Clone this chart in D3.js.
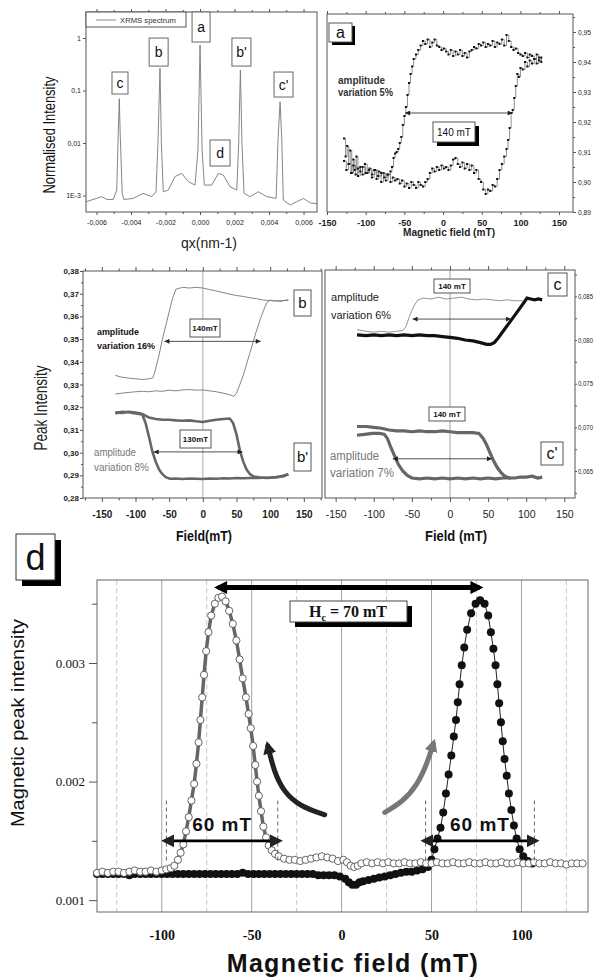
<!DOCTYPE html>
<html>
<head>
<meta charset="utf-8">
<script src="https://cdn.jsdelivr.net/npm/d3@7"></script>
<style>
body{margin:0;background:#fff;}
svg{display:block;font-family:"Liberation Sans",Arial,sans-serif;}
</style>
</head>
<body>
<svg id="fig" width="595" height="979"></svg>
<script>
// ---------- data ----------
// XRMS spectrum [qx (nm-1), normalised intensity]
const xrms = [[-0.00661,0.00076],[-0.0060,0.00088],[-0.0057,0.00095],[-0.0054,0.00084],[-0.00503,0.00084],
  [-0.00483,0.00127],[-0.00474,0.0155],[-0.00468,0.07],[-0.00463,0.0155],[-0.00451,0.0011],[-0.00442,0.00084],
  [-0.00387,0.00088],[-0.0033,0.0011],[-0.0028,0.00095],[-0.00255,0.00118],[-0.00244,0.0099],[-0.00232,0.265],
  [-0.00224,0.0099],[-0.00213,0.00118],[-0.00184,0.00127],[-0.00145,0.0023],[-0.00106,0.00264],[-0.00068,0.00183],
  [-0.00029,0.00158],[-0.00012,0.0074],[0,0.735],[0.00012,0.0074],[0.00025,0.00158],[0.00068,0.00158],
  [0.00106,0.00264],[0.00135,0.00245],[0.00174,0.00147],[0.00213,0.00127],[0.00224,0.0099],[0.00234,0.246],
  [0.00243,0.0099],[0.00255,0.0011],[0.0029,0.00095],[0.00338,0.00118],[0.00387,0.00095],[0.00441,0.00088],
  [0.00452,0.0114],[0.00464,0.061],[0.00474,0.0114],[0.00483,0.00082],[0.00522,0.00066],[0.0056,0.00076],
  [0.0060,0.00088],[0.0064,0.00072],[0.00678,0.0007]];
const qxTicks = [-0.006,-0.004,-0.002,0,0.002,0.004,0.006];
const qxLabels = ['-0,006','-0,004','-0,002','0,000','0,002','0,004','0,006'];
const logTicks = [1,0.1,0.01,0.001];
const logLabels = ['1','0,1','0,01','1E-3'];

// panel a : hysteresis of peak a [field mT, intensity]
const aRise = [[-128,0.9145],[-126,0.9085],[-124,0.9120],[-122,0.9060],[-120,0.9105],[-118,0.9030],[-116,0.9075],
  [-114,0.9040],[-112,0.9085],[-110,0.9020],[-107,0.9050],[-104,0.9025],[-101,0.9060],[-98,0.9030],[-95,0.9045],
  [-92,0.9015],[-89,0.9040],[-86,0.9010],[-83,0.9035],[-80,0.9000],[-77,0.9030],[-74,0.9005],[-71,0.9025],
  [-68,0.9000],[-65,0.9015],[-62,0.9005],[-59,0.9010],[-56,0.8995],[-53,0.9005],[-50,0.8985],[-47,0.8995],
  [-44,0.8980],[-41,0.9000],[-38,0.8990],[-35,0.8980],[-32,0.9000],[-29,0.8990],[-26,0.8985],[-23,0.9000],
  [-20,0.9010],[-17,0.9030],[-14,0.9045],[-11,0.9035],[-8,0.9050],[-5,0.9040],[-2,0.9055],[1,0.9045],[4,0.9050],
  [7,0.9040],[10,0.9055],[13,0.9075],[16,0.9080],[19,0.9060],[22,0.9050],[25,0.9065],[28,0.9045],[31,0.9060],
  [34,0.9040],[37,0.9055],[40,0.9030],[43,0.9040],[46,0.9010],[49,0.9000],[52,0.8975],[55,0.8960],[58,0.8975],
  [61,0.8970],[64,0.8990],[67,0.8985],[70,0.9010],[73,0.9040],[76,0.9060],[79,0.9085],[82,0.9110],[84,0.9140],
  [86,0.9180],[88,0.9230],[90,0.9240],[92,0.9280],[94,0.9320],[96,0.9360],[98,0.9350],[100,0.9380],[103,0.9375],
  [106,0.9400],[109,0.9385],[112,0.9405],[115,0.9395],[118,0.9410],[121,0.9395],[124,0.9415],[127,0.9400]];
const aFall = [[-128,0.9070],[-125,0.9040],[-122,0.9060],[-119,0.9030],[-116,0.9055],[-113,0.9025],[-110,0.9045],
  [-107,0.9035],[-104,0.9050],[-100,0.9030],[-96,0.9040],[-92,0.9025],[-88,0.9040],[-84,0.9020],[-80,0.9030],
  [-76,0.9015],[-72,0.9025],[-68,0.9035],[-66,0.9050],[-64,0.9080],[-62,0.9095],[-60,0.9100],[-58,0.9110],
  [-56,0.9130],[-54,0.9150],[-52,0.9190],[-50,0.9220],[-48,0.9250],[-46,0.9290],[-44,0.9330],[-42,0.9360],
  [-40,0.9385],[-38,0.9410],[-35,0.9425],[-32,0.9440],[-29,0.9455],[-26,0.9470],[-23,0.9460],[-20,0.9475],
  [-17,0.9450],[-14,0.9465],[-11,0.9475],[-8,0.9455],[-5,0.9450],[-2,0.9440],[1,0.9445],[4,0.9435],[7,0.9425],
  [10,0.9440],[13,0.9420],[16,0.9435],[19,0.9425],[22,0.9440],[25,0.9420],[28,0.9430],[31,0.9415],[34,0.9435],
  [37,0.9440],[40,0.9450],[43,0.9445],[46,0.9460],[49,0.9455],[52,0.9465],[55,0.9450],[58,0.9460],[61,0.9455],
  [64,0.9470],[67,0.9450],[70,0.9465],[73,0.9460],[76,0.9475],[79,0.9455],[82,0.9490],[85,0.9470],[88,0.9450],
  [91,0.9440],[94,0.9445],[97,0.9430],[100,0.9425],[103,0.9420],[106,0.9430],[109,0.9415],[112,0.9425],
  [115,0.9420],[118,0.9410],[121,0.9425],[124,0.9405],[127,0.9415]];
const aTicks = [0.89,0.90,0.91,0.92,0.93,0.94,0.95];
const fieldTicks = [-150,-100,-50,0,50,100,150];

// panel b / b'
const bRise = [[-130,0.3258],[-120,0.3262],[-110,0.3265],[-100,0.3268],[-90,0.3270],[-80,0.3268],[-70,0.3272],
  [-60,0.3270],[-50,0.3275],[-40,0.3272],[-30,0.3276],[-20,0.3278],[-10,0.3275],[0,0.3276],[10,0.3272],[20,0.3268],
  [30,0.3262],[40,0.3255],[46,0.3248],[50,0.3262],[55,0.3300],[60,0.3340],[65,0.3390],[70,0.3440],[75,0.3490],
  [80,0.3540],[85,0.3585],[90,0.3625],[95,0.3660],[100,0.3672],[105,0.3668],[110,0.3670],[115,0.3665],
  [120,0.3670],[127,0.3672]];
const bFall = [[-130,0.3340],[-120,0.3332],[-110,0.3328],[-100,0.3325],[-90,0.3322],[-80,0.3325],[-74,0.3330],
  [-70,0.3370],[-65,0.3430],[-60,0.3500],[-55,0.3560],[-50,0.3620],[-45,0.3680],[-40,0.3720],[-30,0.3728],
  [-20,0.3725],[-10,0.3728],[0,0.3725],[10,0.3718],[20,0.3712],[30,0.3705],[40,0.3698],[50,0.3692],[60,0.3688],
  [70,0.3682],[80,0.3678],[90,0.3672],[100,0.3670],[110,0.3668],[120,0.3670],[127,0.3672]];
const bpHigh = [[-130,0.3178],[-120,0.3175],[-110,0.3180],[-100,0.3176],[-90,0.3170],[-80,0.3155],[-70,0.3148],
  [-60,0.3145],[-50,0.3145],[-40,0.3142],[-30,0.3140],[-20,0.3142],[-10,0.3138],[0,0.3135],[10,0.3140],
  [20,0.3145],[30,0.3148],[40,0.3150],[45,0.3130],[50,0.3080],[55,0.3010],[60,0.2960],[65,0.2925],[70,0.2905],
  [75,0.2895],[85,0.2890],[95,0.2888],[105,0.2890],[115,0.2895],[122,0.2900],[127,0.2905]];
const bpLow = [[-130,0.3172],[-120,0.3180],[-110,0.3178],[-100,0.3172],[-90,0.3168],[-85,0.3130],[-80,0.3070],
  [-75,0.3005],[-70,0.2960],[-65,0.2925],[-60,0.2905],[-55,0.2892],[-49,0.2885],[-40,0.2886],[-30,0.2884],
  [-20,0.2886],[-10,0.2885],[0,0.2884],[10,0.2886],[20,0.2885],[30,0.2887],[40,0.2886],[50,0.2888],[60,0.2887],
  [70,0.2888],[80,0.2888],[90,0.2889],[100,0.2890],[110,0.2892],[120,0.2896],[127,0.2905]];
const bTicks = [0.28,0.29,0.30,0.31,0.32,0.33,0.34,0.35,0.36,0.37,0.38];

// panel c / c'
const cThin = [[-122,0.0812],[-110,0.0810],[-100,0.0809],[-90,0.0810],[-80,0.0809],[-70,0.0810],[-62,0.0811],
  [-58,0.0815],[-54,0.0825],[-50,0.0834],[-46,0.0841],[-42,0.0846],[-35,0.0848],[-25,0.0847],[-15,0.0849],
  [-5,0.0847],[5,0.0848],[15,0.0849],[25,0.0847],[35,0.0846],[45,0.0847],[55,0.0846],[65,0.0845],[75,0.0846],
  [85,0.0845],[95,0.0845]];
const cThick = [[-122,0.0806],[-110,0.0805],[-100,0.0806],[-90,0.0805],[-80,0.0806],[-70,0.0805],[-60,0.0806],
  [-50,0.0805],[-40,0.0806],[-30,0.0805],[-20,0.0805],[-10,0.0804],[0,0.0803],[10,0.0802],[20,0.0800],
  [30,0.0799],[40,0.0797],[48,0.0795],[53,0.0795],[58,0.0797],[63,0.0802],[68,0.0808],[73,0.0814],[78,0.0820],
  [83,0.0826],[88,0.0832],[93,0.0838],[97,0.0843],[101,0.0848],[106,0.0847],[111,0.0846],[116,0.0847],[121,0.0846]];
const cpHigh = [[-122,0.0701],[-110,0.0701],[-100,0.0700],[-90,0.0699],[-80,0.0697],[-70,0.0696],[-60,0.0696],
  [-50,0.0695],[-40,0.0696],[-30,0.0695],[-20,0.0695],[-10,0.0696],[0,0.0695],[10,0.0694],[20,0.0694],
  [30,0.0694],[38,0.0693],[43,0.0688],[48,0.0680],[53,0.0670],[57,0.0662],[62,0.0654],[67,0.0648],[72,0.0644],
  [78,0.0642],[85,0.0642],[92,0.0643],[100,0.0643],[108,0.0644],[115,0.0642],[121,0.0643]];
const cpLow = [[-122,0.0691],[-112,0.0692],[-102,0.0693],[-92,0.0693],[-86,0.0692],[-82,0.0687],[-78,0.0678],
  [-73,0.0668],[-68,0.0658],[-62,0.0650],[-56,0.0645],[-50,0.0642],[-40,0.0641],[-30,0.0642],[-20,0.0641],
  [-10,0.0642],[0,0.0641],[10,0.0642],[20,0.0641],[30,0.0642],[40,0.0641],[50,0.0642],[60,0.0641],[70,0.0642],
  [80,0.0642]];
const cTicks = [0.065,0.070,0.075,0.080,0.085];

// panel d : magnetic peak intensity
const dOpen = [[-136,0.00123],[-133,0.00124],[-130,0.00123],[-127,0.00124],[-124,0.00124],[-121,0.00123],
  [-118,0.00124],[-115,0.00125],[-112,0.00124],[-109,0.00124],[-106,0.00125],[-103,0.00124],[-100,0.00125],
  [-97.5,0.00126],[-95,0.00127],[-93,0.00129],[-91,0.00134],[-89.5,0.00140],[-88,0.00147],[-86.5,0.00158],
  [-85,0.00170],[-83.5,0.00184],[-82,0.00198],[-80.7,0.00215],[-79.5,0.00233],[-78.5,0.00252],[-77.5,0.00271],
  [-76.5,0.00290],[-75.3,0.00310],[-74,0.00326],[-72.5,0.00340],[-70.5,0.00350],[-68.5,0.00355],[-66.5,0.00356],
  [-64.5,0.00352],[-62.5,0.00344],[-60.5,0.00333],[-58.5,0.00319],[-56.7,0.00303],[-55,0.00287],[-53.2,0.00271],
  [-51.7,0.00257],[-50.5,0.00245],[-49.2,0.00230],[-48,0.00214],[-47,0.00200],[-46,0.00188],[-44.8,0.00175],
  [-43.5,0.00162],[-42,0.00153],[-40.5,0.00146],[-38.8,0.00142],[-37,0.00139],[-35,0.00137],[-32,0.00135],
  [-29,0.00134],[-26,0.00134],[-23,0.00133],[-20,0.00134],[-17,0.00135],[-14,0.00136],[-11,0.00137],[-8,0.00136],
  [-5,0.00135],[-2,0.00133],[1,0.00134],[3,0.00132],[5,0.00129],[7,0.00128],[9,0.00129],[11,0.00131],[14,0.00132],
  [17,0.00131],[20,0.00132],[23,0.00131],[26,0.00132],[29,0.00131],[32,0.00131],[35,0.00132],[38,0.00131],
  [41,0.00131],[44,0.00132],[47,0.00131],[50,0.00131],[53,0.00132],[56,0.00131],[59,0.00131],[62,0.00132],
  [65,0.00131],[68,0.00131],[71,0.00132],[74,0.00131],[77,0.00131],[80,0.00132],[83,0.00131],[86,0.00131],
  [89,0.00132],[92,0.00131],[95,0.00131],[98,0.00132],[101,0.00131],[104,0.00131],[107,0.00132],[110,0.00131],
  [113,0.00131],[116,0.00132],[119,0.00131],[122,0.00131],[125,0.00130],[128,0.00131],[131,0.00131],[134,0.00131]];
const dFilled = [[-136,0.00122],[-133,0.00122],[-130,0.00122],[-127,0.00122],[-124,0.00122],[-121,0.00122],
  [-118,0.00121],[-115,0.00122],[-112,0.00122],[-109,0.00122],[-106,0.00122],[-103,0.00122],[-100,0.00122],
  [-97,0.00122],[-94,0.00122],[-91,0.00122],[-88,0.00122],[-85,0.00122],[-82,0.00122],[-79,0.00122],[-76,0.00122],
  [-73,0.00122],[-70,0.00122],[-67,0.00122],[-64,0.00122],[-61,0.00122],[-58,0.00122],[-55,0.00123],[-52,0.00122],
  [-49,0.00122],[-46,0.00122],[-43,0.00122],[-40,0.00122],[-37,0.00122],[-34,0.00122],[-31,0.00122],[-28,0.00122],
  [-25,0.00122],[-22,0.00122],[-19,0.00122],[-16,0.00122],[-13,0.00121],[-10,0.00121],[-7,0.00121],[-4,0.00121],
  [-1,0.00120],[2,0.00118],[4,0.00115],[6,0.00113],[8,0.00113],[10,0.00115],[12,0.00116],[15,0.00117],[18,0.00118],
  [21,0.00119],[24,0.00120],[27,0.00121],[30,0.00122],[33,0.00123],[36,0.00124],[39,0.00124],[42,0.00125],
  [45,0.00126],[48,0.00128],[50,0.00134],[51.6,0.00143],[53.3,0.00152],[55,0.00161],[56.5,0.00174],[58,0.00190],
  [59.5,0.00206],[61,0.00222],[62.4,0.00238],[63.6,0.00252],[64.6,0.00267],[65.6,0.00282],[66.8,0.00298],
  [68.2,0.00313],[69.8,0.00328],[72,0.00342],[74.5,0.00350],[77,0.00353],[79.5,0.00350],[81.5,0.00340],
  [83,0.00326],[84.4,0.00312],[85.6,0.00298],[86.6,0.00282],[87.6,0.00266],[88.6,0.00250],[89.6,0.00234],
  [90.6,0.00219],[91.8,0.00205],[93,0.00190],[94.4,0.00176],[95.8,0.00163],[97.3,0.00152],[99,0.00143],
  [101,0.00137],[103.5,0.00133],[106,0.00131]];
const dTicks = [0.001,0.002,0.003];
const dFieldTicks = [-100,-50,0,50,100];
const dGridMinor = [-125,-75,-25,25,75,125];
// curved arrows (field, intensity)
const darkArrow = [[-9.4,0.00172],[-23,0.00179],[-32,0.00191],[-37.5,0.00208],[-41,0.00230]];
const greyArrow = [[24,0.00174],[34,0.00183],[42,0.00197],[47.5,0.00215],[51,0.00232]];

// ---------- helpers ----------
const svg = d3.select('#fig');
const defs = svg.append('defs');
function marker(id, color, w, h, refX){
  defs.append('marker').attr('id', id).attr('viewBox', '0 0 10 10')
    .attr('refX', refX).attr('refY', 5)
    .attr('markerWidth', w).attr('markerHeight', h)
    .attr('markerUnits', 'userSpaceOnUse').attr('orient', 'auto-start-reverse')
    .append('path').attr('d', 'M0,0L10,5L0,10Z').attr('fill', color);
}
marker('arS', '#222', 7, 5, 10);
marker('arBig', '#000', 17, 13, 7);
marker('arDark', '#222', 13, 13, 6);
marker('arGrey', '#777', 13, 13, 6);

function axis(fn, scale, values, labels, tr, o){
  const ax = fn(scale).tickValues(values).tickSizeOuter(0)
    .tickSizeInner(o.size === undefined ? 3 : o.size).tickPadding(o.pad === undefined ? 2 : o.pad)
    .tickFormat((d, i) => labels ? labels[i] : '');
  const a = svg.append('g').attr('transform', tr).call(ax);
  a.select('.domain').remove();
  a.selectAll('line').attr('stroke', o.lc || '#555');
  const t = a.selectAll('text').attr('font-size', o.fs || 8).attr('font-weight', o.fw || 'normal')
    .attr('fill', o.col || '#222').attr('font-family', o.ff || '"Liberation Sans",Arial,sans-serif');
  if (o.len) t.attr('textLength', o.len).attr('lengthAdjust', 'spacingAndGlyphs');
  return a;
}
function frame(x0, y0, x1, y1, c){
  svg.append('rect').attr('x', x0).attr('y', y0).attr('width', x1 - x0).attr('height', y1 - y0)
    .attr('fill', 'none').attr('stroke', c || '#555').attr('stroke-width', 1);
}
function box(x, y, w, h, txt, fs, o){
  o = o || {};
  if (o.shadow) svg.append('rect').attr('x', x + o.shadow).attr('y', y + o.shadow)
    .attr('width', w).attr('height', h).attr('fill', '#000');
  svg.append('rect').attr('x', x).attr('y', y).attr('width', w).attr('height', h)
    .attr('fill', '#fff').attr('stroke', o.stroke || '#555').attr('stroke-width', 1);
  svg.append('text').attr('x', x + w / 2).attr('y', y + h / 2).attr('dy', '0.36em')
    .attr('text-anchor', 'middle').attr('font-size', fs).attr('font-weight', o.fw || 'normal')
    .attr('fill', '#111').text(txt);
}
function label(x, y, txt, fs, o){
  o = o || {};
  const t = svg.append('text').attr('x', x).attr('y', y).attr('font-size', fs)
    .attr('font-weight', o.fw || 'normal').attr('fill', o.col || '#222')
    .attr('text-anchor', o.anchor || 'start').text(txt);
  if (o.rot) t.attr('transform', `rotate(-90,${x},${y})`);
  if (o.len) t.attr('textLength', o.len).attr('lengthAdjust', 'spacingAndGlyphs');
  if (o.ls) t.attr('letter-spacing', o.ls);
  if (o.ff) t.attr('font-family', o.ff);
  return t;
}
function dbl(x0, x1, y, c, w, m){
  svg.append('line').attr('x1', x0).attr('x2', x1).attr('y1', y).attr('y2', y)
    .attr('stroke', c || '#222').attr('stroke-width', w || 0.8)
    .attr('marker-start', `url(#${m || 'arS'})`).attr('marker-end', `url(#${m || 'arS'})`);
}
function minorVals(a, b, step){ return d3.range(a, b + step / 2, step); }

// ---------- panel 1 : XRMS spectrum ----------
const x1s = d3.scaleLinear().domain([-0.00661, 0.00678]).range([86, 317]);
const y1s = d3.scaleLog().domain([0.000485, 3.13]).range([212, 12]);
svg.append('path').datum(xrms)
  .attr('d', d3.line().x(d => x1s(d[0])).y(d => y1s(d[1])))
  .attr('fill', 'none').attr('stroke', '#777').attr('stroke-width', 0.9);
frame(86, 12, 317, 212);
axis(d3.axisBottom, x1s, qxTicks, qxLabels, 'translate(0,212)', {fs: 7, pad: 5});
axis(d3.axisBottom, x1s, minorVals(-0.005, 0.005, 0.002), null, 'translate(0,212)', {size: 2});
axis(d3.axisTop, x1s, qxTicks, null, 'translate(0,12)', {});
axis(d3.axisTop, x1s, minorVals(-0.005, 0.005, 0.002), null, 'translate(0,12)', {size: 2});
axis(d3.axisLeft, y1s, logTicks, logLabels, 'translate(86,0)', {fs: 7, pad: 2});
// legend
svg.append('rect').attr('x', 86).attr('y', 12).attr('width', 100).attr('height', 15)
  .attr('fill', '#fff').attr('stroke', '#555');
svg.append('line').attr('x1', 96).attr('x2', 116).attr('y1', 20).attr('y2', 20).attr('stroke', '#888');
label(120, 22.5, 'XRMS spectrum', 7, {len: 56, col: '#333'});
// peak labels, anchored in data space
[{t: 'a', q: 0.00006, v: 1.62, w: 18, h: 30},
 {t: 'b', q: -0.0024, v: 0.54, w: 19, h: 28},
 {t: "b'", q: 0.0024, v: 0.54, w: 19, h: 28},
 {t: 'c', q: -0.00464, v: 0.139, w: 16, h: 22},
 {t: "c'", q: 0.00484, v: 0.13, w: 19, h: 25},
 {t: 'd', q: 0.00116, v: 0.00645, w: 20, h: 26}].forEach(p => {
  box(x1s(p.q) - p.w / 2, y1s(p.v) - p.h / 2, p.w, p.h, p.t, 14, {stroke: '#666'});
});
label(55, 135, 'Normalised Intensity', 16, {rot: true, anchor: 'middle', len: 117, col: '#111'});
label(209, 248, 'qx(nm-1)', 14, {anchor: 'middle', col: '#222'});

// ---------- panel a ----------
const xAs = d3.scaleLinear().domain([-150, 168]).range([327, 573]);
const yAs = d3.scaleLinear().domain([0.89, 0.956]).range([212, 14]);
const lineA = d3.line().x(d => xAs(d[0])).y(d => yAs(d[1])).curve(d3.curveStepAfter);
[aRise, aFall].forEach(s => {
  svg.append('path').datum(s).attr('d', lineA).attr('fill', 'none')
    .attr('stroke', '#444').attr('stroke-width', 0.6);
  svg.append('g').selectAll('rect').data(s).join('rect')
    .attr('x', d => xAs(d[0]) - 1).attr('y', d => yAs(d[1]) - 1)
    .attr('width', 2).attr('height', 2).attr('fill', '#111');
});
frame(327, 14, 573, 212);
axis(d3.axisBottom, xAs, fieldTicks, fieldTicks.map(String), 'translate(0,212)', {fs: 9, fw: 'bold', pad: 5});
axis(d3.axisBottom, xAs, minorVals(-125, 125, 50), null, 'translate(0,212)', {size: 2});
axis(d3.axisTop, xAs, fieldTicks, null, 'translate(0,14)', {});
axis(d3.axisTop, xAs, minorVals(-125, 125, 50), null, 'translate(0,14)', {size: 2});
axis(d3.axisRight, yAs, aTicks, aTicks.map(d => d3.format('.2f')(d).replace('.', ',')), 'translate(573,0)',
  {fs: 7, pad: 2, len: 13});
axis(d3.axisRight, yAs, minorVals(0.895, 0.955, 0.01), null, 'translate(573,0)', {size: 2});
dbl(xAs(-49), xAs(90), yAs(0.923));
box(433, 122, 42, 20, '140 mT', 10, {shadow: 4});
box(329, 23, 23, 19, 'a', 16, {shadow: 3});
label(338, 84, 'amplitude', 10, {len: 47, col: '#333', fw: 'bold'});
label(338, 96, 'variation 5%', 10, {len: 55, col: '#333', fw: 'bold'});
label(449, 236, 'Magnetic field (mT)', 10, {anchor: 'middle', fw: 'bold', len: 92, col: '#222'});

// ---------- panel b ----------
const xBs = d3.scaleLinear().domain([-178, 177]).range([83, 322]);
const yBs = d3.scaleLinear().domain([0.28, 0.38]).range([498, 271]);
const lineB = d3.line().x(d => xBs(d[0])).y(d => yBs(d[1]));
svg.append('line').attr('x1', xBs(0)).attr('x2', xBs(0)).attr('y1', 271).attr('y2', 498)
  .attr('stroke', '#aaa').attr('stroke-width', 1);
[bRise, bFall].forEach(s => svg.append('path').datum(s).attr('d', lineB)
  .attr('fill', 'none').attr('stroke', '#777').attr('stroke-width', 0.9));
[bpHigh, bpLow].forEach(s => svg.append('path').datum(s).attr('d', lineB)
  .attr('fill', 'none').attr('stroke', '#666').attr('stroke-width', 2.6));
frame(83, 271, 322, 498);
axis(d3.axisLeft, yBs, bTicks, bTicks.map(d => d3.format('.2f')(d).replace('.', ',')), 'translate(83,0)', {fs: 8, fw: 'bold', pad: 1});
axis(d3.axisLeft, yBs, minorVals(0.285, 0.375, 0.01), null, 'translate(83,0)', {size: 2});
axis(d3.axisBottom, xBs, fieldTicks, fieldTicks.map(String), 'translate(0,498)', {fs: 10, fw: 'bold', pad: 9, size: 4});
axis(d3.axisBottom, xBs, minorVals(-175, 175, 50), null, 'translate(0,498)', {size: 2.5});
axis(d3.axisTop, xBs, fieldTicks, null, 'translate(0,271)', {size: 4});
axis(d3.axisTop, xBs, minorVals(-175, 175, 50), null, 'translate(0,271)', {size: 2.5});
dbl(xBs(-57), xBs(86), yBs(0.349));
dbl(xBs(-73), xBs(59), yBs(0.3003));
box(190, 319, 30, 18, '140mT', 8, {fw: 'bold'});
box(180, 430, 31, 18, '130mT', 8, {fw: 'bold'});
box(294, 290, 17, 26, 'b', 15);
box(294, 443, 17, 28, "b'", 15);
label(97, 335, 'amplitude', 9.5, {fw: 'bold', len: 42, col: '#111'});
label(97, 349, 'variation 16%', 9.5, {fw: 'bold', len: 58, col: '#111'});
label(94, 456, 'amplitude', 10, {len: 42, col: '#777'});
label(94, 471, 'variation 8%', 10, {len: 55, col: '#777'});
label(47, 408, 'Peak Intensity', 18, {rot: true, anchor: 'middle', len: 85, col: '#222'});
label(204, 541, 'Field(mT)', 14, {anchor: 'middle', fw: 'bold', len: 56, col: '#111'});

// ---------- panel c ----------
const xCs = d3.scaleLinear().domain([-164, 164]).range([325, 575]);
const yCs = d3.scaleLinear().domain([0.06191, 0.08802]).range([498, 270]);
const lineC = d3.line().x(d => xCs(d[0])).y(d => yCs(d[1]));
svg.append('line').attr('x1', xCs(0)).attr('x2', xCs(0)).attr('y1', 270).attr('y2', 498)
  .attr('stroke', '#888').attr('stroke-width', 0.8);
svg.append('path').datum(cThin).attr('d', lineC).attr('fill', 'none').attr('stroke', '#888').attr('stroke-width', 0.9);
svg.append('path').datum(cThick).attr('d', lineC).attr('fill', 'none').attr('stroke', '#111').attr('stroke-width', 3.2);
[cpHigh, cpLow].forEach(s => svg.append('path').datum(s).attr('d', lineC)
  .attr('fill', 'none').attr('stroke', '#666').attr('stroke-width', 3.2));
frame(325, 270, 575, 498);
axis(d3.axisRight, yCs, cTicks, cTicks.map(d => d3.format('.3f')(d).replace('.', ',')), 'translate(575,0)',
  {fs: 7, pad: 1, size: 2, len: 15});
axis(d3.axisRight, yCs, minorVals(0.0625, 0.0875, 0.005), null, 'translate(575,0)', {size: 2});
axis(d3.axisBottom, xCs, fieldTicks, fieldTicks.map(String), 'translate(0,498)', {fs: 10.5, pad: 9, size: 4});
axis(d3.axisBottom, xCs, minorVals(-125, 125, 50), null, 'translate(0,498)', {size: 2.5});
axis(d3.axisTop, xCs, fieldTicks, null, 'translate(0,270)', {size: 4});
axis(d3.axisTop, xCs, minorVals(-125, 125, 50), null, 'translate(0,270)', {size: 2.5});
dbl(xCs(-49), xCs(80), yCs(0.0824));
dbl(xCs(-75), xCs(55), yCs(0.0664));
box(434, 279, 36, 14, '140 mT', 8, {fw: 'bold'});
box(429, 407, 36, 14, '140 mT', 8, {fw: 'bold'});
box(548, 273, 19, 23, 'c', 16);
box(541, 442, 22, 23, "c'", 16);
label(331, 301, 'amplitude', 11.5, {len: 48, col: '#222'});
label(331, 319, 'variation 6%', 11.5, {len: 60, col: '#222'});
label(330, 460, 'amplitude', 12, {len: 49, col: '#777'});
label(330, 477, 'variation 7%', 12, {len: 64, col: '#777'});
label(456, 541, 'Field (mT)', 14, {anchor: 'middle', fw: 'bold', len: 62, col: '#111'});

// ---------- panel d ----------
const xDs = d3.scaleLinear().domain([-136, 137]).range([97, 588]);
const yDs = d3.scaleLinear().domain([0.0009, 0.0037]).range([912, 580]);
dFieldTicks.forEach(v => svg.append('line').attr('x1', xDs(v)).attr('x2', xDs(v))
  .attr('y1', 580).attr('y2', 912).attr('stroke', '#999').attr('stroke-width', 0.9));
dGridMinor.forEach(v => svg.append('line').attr('x1', xDs(v)).attr('x2', xDs(v))
  .attr('y1', 580).attr('y2', 912).attr('stroke', '#bbb').attr('stroke-width', 0.8).attr('stroke-dasharray', '5,3'));
frame(97, 580, 588, 912, '#666');
axis(d3.axisLeft, yDs, dTicks, dTicks.map(d3.format('.3f')), 'translate(97,0)',
  {fs: 13, pad: 4, size: 8, ff: '"Liberation Serif","Times New Roman",serif', col: '#111'});
axis(d3.axisLeft, yDs, [0.0015, 0.0025, 0.0035], null, 'translate(97,0)', {size: 5});
axis(d3.axisBottom, xDs, dFieldTicks, dFieldTicks.map(String), 'translate(0,912)',
  {fs: 14, fw: 'bold', pad: 18, size: 0, ff: '"Liberation Serif","Times New Roman",serif', col: '#111'});

const lineD = d3.line().x(d => xDs(d[0])).y(d => yDs(d[1]));
svg.append('path').datum(dFilled).attr('d', lineD).attr('fill', 'none').attr('stroke', '#222').attr('stroke-width', 1);
svg.append('g').selectAll('circle').data(dFilled).join('circle')
  .attr('cx', d => xDs(d[0])).attr('cy', d => yDs(d[1])).attr('r', 4).attr('fill', '#111');
svg.append('path').datum(dOpen).attr('d', lineD).attr('fill', 'none').attr('stroke', '#666').attr('stroke-width', 3.5);
svg.append('g').selectAll('circle').data(dOpen).join('circle')
  .attr('cx', d => xDs(d[0])).attr('cy', d => yDs(d[1])).attr('r', 3.6)
  .attr('fill', '#fff').attr('stroke', '#555').attr('stroke-width', 0.9);

// annotations
dbl(xDs(-68.7), xDs(76.7), yDs(0.003636), '#000', 5, 'arBig');
const curve = d3.line().x(d => xDs(d[0])).y(d => yDs(d[1])).curve(d3.curveBasis);
svg.append('path').datum(darkArrow).attr('d', curve).attr('fill', 'none').attr('stroke', '#222')
  .attr('stroke-width', 5).attr('stroke-linecap', 'round').attr('marker-end', 'url(#arDark)');
svg.append('path').datum(greyArrow).attr('d', curve).attr('fill', 'none').attr('stroke', '#777')
  .attr('stroke-width', 5).attr('stroke-linecap', 'round').attr('marker-end', 'url(#arGrey)');
[[-97.4, -35.5], [46.7, 107.2]].forEach(r => {
  r.forEach(v => svg.append('line').attr('x1', xDs(v)).attr('x2', xDs(v))
    .attr('y1', yDs(0.00184)).attr('y2', yDs(0.00131))
    .attr('stroke', '#444').attr('stroke-width', 0.8).attr('stroke-dasharray', '4,3'));
  dbl(xDs(r[0]), xDs(r[1]), yDs(0.0015), '#000', 2.6, 'arDark');
  label(xDs((r[0] + r[1]) / 2), yDs(0.00158), '60 mT', 19, {anchor: 'middle', fw: 'bold', ls: 1, col: '#111'});
});
svg.append('rect').attr('x', 295).attr('y', 606).attr('width', 117).attr('height', 21).attr('fill', '#000');
svg.append('rect').attr('x', 290).attr('y', 601).attr('width', 117).attr('height', 21)
  .attr('fill', '#fff').attr('stroke', '#444');
const hc = svg.append('text').attr('x', 348).attr('y', 617).attr('text-anchor', 'middle')
  .attr('font-family', '"Liberation Serif","Times New Roman",serif').attr('font-weight', 'bold')
  .attr('font-size', 16).attr('fill', '#111');
hc.append('tspan').text('H');
hc.append('tspan').attr('font-size', 10).attr('dy', 4).text('c');
hc.append('tspan').attr('dy', -4).text(' = 70 mT');
// "d" tag
svg.append('rect').attr('x', 22).attr('y', 540).attr('width', 39).attr('height', 46).attr('fill', '#000');
box(16, 534, 39, 46, 'd', 36, {stroke: '#333'});
label(24, 723, 'Magnetic peak intensity', 18, {rot: true, anchor: 'middle', len: 208, col: '#111'});
label(353, 972, 'Magnetic field (mT)', 25, {anchor: 'middle', fw: 'bold', ls: 1.3, col: '#111'});
</script>
</body>
</html>
